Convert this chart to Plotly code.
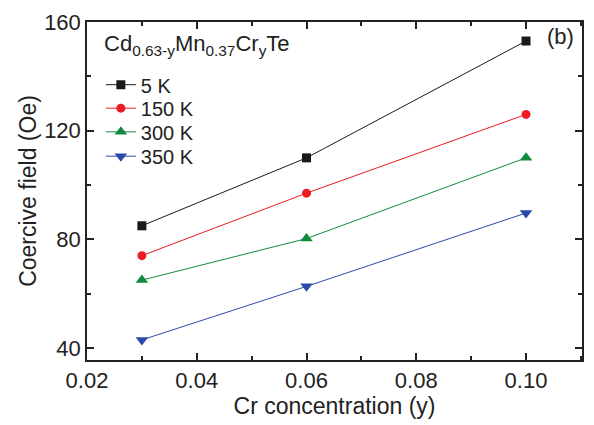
import plotly.graph_objects as go

cr = [0.03, 0.06, 0.10]
series_names = ["5 K", "150 K", "300 K", "350 K"]
hc_5K = [85, 110, 153]
hc_150K = [74, 97, 126]
hc_300K = [65, 80.3, 110]
hc_350K = [43, 62.7, 89.7]

values = [hc_5K, hc_150K, hc_300K, hc_350K]
colors = ["#1a1a1a", "#ec1c24", "#128a3e", "#2b4aa8"]
symbols = ["square", "circle", "triangle-up", "triangle-down"]
sizes = [9, 9, 11, 11]
legend_ids = ["legend", "legend2", "legend3", "legend4"]
legend_y = [0.8145, 0.745, 0.675, 0.603]

FONT = "Liberation Sans, Arial, sans-serif"

fig = go.Figure()
for name, vals, c, s, sz, lid in zip(series_names, values, colors, symbols, sizes, legend_ids):
    fig.add_trace(go.Scatter(
        x=cr, y=vals, name=name, mode="lines+markers",
        line=dict(color=c, width=1),
        marker=dict(symbol=s, size=sz, color=c),
        legend=lid,
    ))

axis_common = dict(
    showline=True, linecolor="#222", linewidth=1.5, mirror="allticks",
    ticks="inside", ticklen=7, tickwidth=1.5, tickcolor="#222",
    showgrid=False, zeroline=False,
    tickfont=dict(family=FONT, size=22, color="#222"),
)

fig.update_xaxes(
    range=[0.02, 0.1102], tick0=0.02, dtick=0.02, tickformat=".2f",
    minor=dict(ticks="inside", ticklen=4, tickwidth=1.5, tickcolor="#222", dtick=0.01),
    title=dict(text="Cr concentration (y)", font=dict(family=FONT, size=23, color="#222"), standoff=6),
    **axis_common,
)
fig.update_yaxes(
    range=[35.6, 160], tick0=40, dtick=40,
    minor=dict(ticks="inside", ticklen=4, tickwidth=1.5, tickcolor="#222", dtick=20, tick0=40),
    title=dict(text="Coercive field (Oe)", font=dict(family=FONT, size=23, color="#222"), standoff=1),
    **axis_common,
)

fig.add_annotation(
    xref="paper", yref="paper", x=0.030, y=0.932, xanchor="left", yanchor="middle",
    text="Cd<sub>0.63-y</sub>Mn<sub>0.37</sub>Cr<sub>y</sub>Te", showarrow=False,
    font=dict(family=FONT, size=22, color="#222"),
)
fig.add_annotation(
    xref="paper", yref="paper", x=0.925, y=0.957, xanchor="left", yanchor="middle",
    text="(b)", showarrow=False,
    font=dict(family=FONT, size=22, color="#222"),
)

layout_legends = {}
for lid, ly in zip(legend_ids, legend_y):
    layout_legends[lid] = dict(
        x=0.028, y=ly, xanchor="left", yanchor="middle",
        bgcolor="rgba(0,0,0,0)", borderwidth=0,
        font=dict(family=FONT, size=20, color="#222"),
        itemwidth=30,
    )

fig.update_layout(
    width=594, height=425,
    margin=dict(l=87, r=10, t=18, b=62),
    paper_bgcolor="white", plot_bgcolor="white",
    showlegend=True,
    **layout_legends,
)

fig.write_html("out.html")
